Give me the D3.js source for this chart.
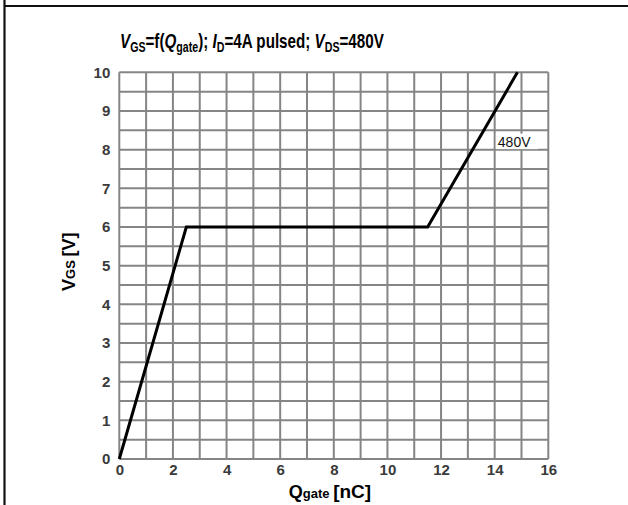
<!DOCTYPE html>
<html><head><meta charset="utf-8">
<script src="https://cdn.jsdelivr.net/npm/d3@7"></script>
<style>html,body{margin:0;padding:0;background:#fff;}svg{display:block;font-family:"Liberation Sans",Arial,sans-serif;}</style>
</head><body>
<script>
const qgate = [0, 2.5, 11.5, 14.85];
const vgs = [0, 6, 6, 10];
const xTicks = [0, 2, 4, 6, 8, 10, 12, 14, 16];
const yTicks = [0, 1, 2, 3, 4, 5, 6, 7, 8, 9, 10];
const seriesLabel = "480V";

const W = 628, H = 505;
const FF = '"Liberation Sans",Arial,sans-serif';
const svg = d3.select("body").append("svg").attr("width", W).attr("height", H);

// frame
svg.append("line").attr("x1", 4).attr("x2", W).attr("y1", 6).attr("y2", 6).attr("stroke", "#111").attr("stroke-width", 2.2);
svg.append("line").attr("x1", 4.5).attr("x2", 4.5).attr("y1", 0).attr("y2", H).attr("stroke", "#111").attr("stroke-width", 2.2);

const x = d3.scaleLinear().domain([0, 16]).range([119.3, 548.3]);
const y = d3.scaleLinear().domain([0, 10]).range([459, 72.3]);

const grid = svg.append("g").attr("stroke", "#858585").attr("stroke-width", 2);
grid.selectAll("line.v").data(d3.range(0, 17, 1)).join("line")
  .attr("x1", d => x(d)).attr("x2", d => x(d)).attr("y1", y(0)).attr("y2", y(10));
grid.selectAll("line.h").data(d3.range(0, 10.01, 0.5)).join("line")
  .attr("y1", d => y(d)).attr("y2", d => y(d)).attr("x1", x(0)).attr("x2", x(16));

// axes tick labels
const xAxis = d3.axisBottom(x).tickValues(xTicks).tickSize(0).tickPadding(5);
const gx = svg.append("g").attr("transform", `translate(0,${y(0)})`).call(xAxis);
gx.select(".domain").remove();
gx.attr("font-size", null).attr("font-family", null);
gx.selectAll("text").style("font-size", "15px").style("font-weight", "bold").attr("fill", "#3a3a3a")
  .style("font-family", FF);

const yAxis = d3.axisLeft(y).tickValues(yTicks).tickSize(0).tickPadding(9);
const gy = svg.append("g").attr("transform", `translate(${x(0)},0)`).call(yAxis);
gy.select(".domain").remove();
gy.attr("font-size", null).attr("font-family", null);
gy.selectAll("text").style("font-size", "15px").style("font-weight", "bold").attr("fill", "#3a3a3a")
  .style("font-family", FF);

// data line
const pts = qgate.map((q, i) => [q, vgs[i]]);
svg.append("path").datum(pts)
  .attr("d", d3.line().x(d => x(d[0])).y(d => y(d[1])))
  .attr("fill", "none").attr("stroke", "#000").attr("stroke-width", 3).attr("stroke-linejoin", "miter");

// series label
const lx = x(14.08), ly = y(8.0);
svg.append("rect").attr("x", lx - 1).attr("y", ly - 16).attr("width", 42).attr("height", 15.5).attr("fill", "#fff");
svg.append("text").attr("x", lx + 1).attr("y", ly - 2.5).style("font-size", "14px").attr("fill", "#111").text(seriesLabel);

// title
const tg = svg.append("g");
const t = tg.append("text").attr("x", 0).attr("y", 0)
  .style("font-size", "20px").attr("font-weight", "bold").attr("fill", "#000");
function part(txt, opts) {
  const s = t.append("tspan").text(txt);
  if (opts && opts.it) s.attr("font-style", "italic");
  if (opts && opts.sub) s.style("font-size", "14px").attr("dy", 4);
  if (opts && opts.up) s.attr("dy", -4);
  return s;
}
part("V", {it: true}); part("GS", {sub: true}); part("=f(", {up: true}); part("Q", {it: true});
part("gate", {sub: true}); part("); ", {up: true}); part("I", {it: true}); part("D", {sub: true});
part("=4A pulsed; ", {up: true}); part("V", {it: true}); part("DS", {sub: true}); part("=480V", {up: true});
const tw = t.node().getComputedTextLength();
const sx = 264 / tw;
tg.attr("transform", `translate(120,48) scale(${sx},1)`);

// x axis title
const xt = svg.append("text").attr("x", 330).attr("y", 498).attr("text-anchor", "middle")
  .attr("font-weight", "bold").attr("fill", "#000");
xt.append("tspan").style("font-size", "18px").text("Q");
xt.append("tspan").style("font-size", "13px").text("gate ");
xt.append("tspan").style("font-size", "19px").text("[nC]");

// y axis title
const yt = svg.append("text").attr("transform", `translate(75,${y(5.1)}) rotate(-90)`).attr("text-anchor", "middle")
  .attr("font-weight", "bold").attr("fill", "#000");
yt.append("tspan").style("font-size", "18px").text("V");
yt.append("tspan").style("font-size", "13px").text("GS ");
yt.append("tspan").style("font-size", "18px").text("[V]");
</script>
</body></html>
